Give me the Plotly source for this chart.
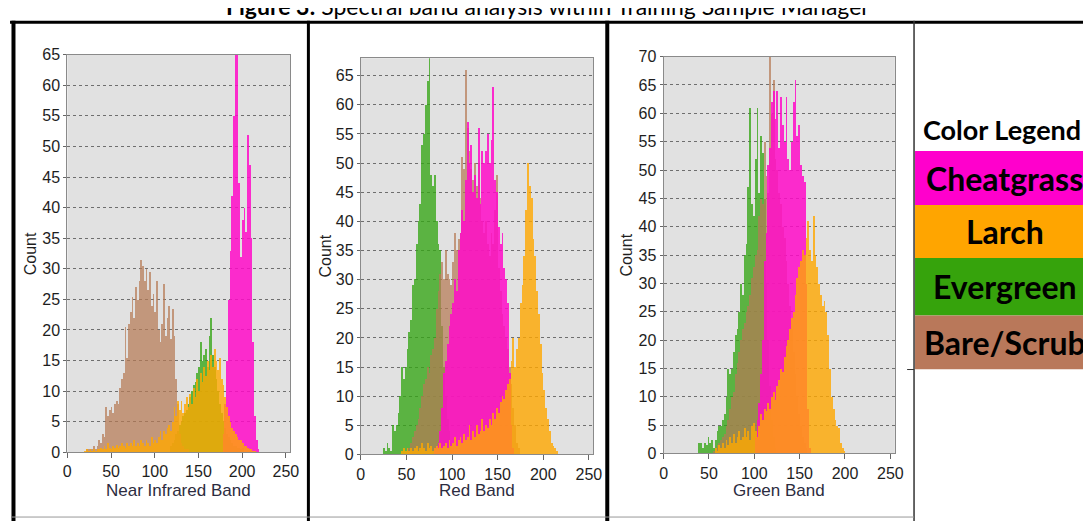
import plotly.graph_objects as go

W, H = 1091, 527          # target picture size
OFF = 8                   # page body margin in front of the figure
FW, FH = W - OFF, H - OFF # figure reaches the right / bottom edge of the window

# ---------------- data (bin width 2, counts per bin) ----------------
bands = ["Near Infrared Band", "Red Band", "Green Band"]
y_max = [65, 68, 70]
x_ticks = [0, 50, 100, 150, 200, 250]

# Near Infrared
nir_bare_start = 22
nir_bare = [0.5, 0.5, 0.5, 0.5, 1, 0.5, 1, 2, 1.5, 3, 2.5, 7.5, 6, 7, 7.5, 6.5, 8, 8.5, 8, 10.5,
            12, 13, 20.5, 15.5, 21, 23, 25.5, 22, 27, 25, 28, 31.5, 30.5, 28, 30, 26.5, 29.5, 24,
            26, 23, 28, 20, 18, 21, 27.5, 19, 22, 24, 18.5, 23.5, 19, 12, 8, 3, 1.5, 1, 0.5, 0.5, 0.5]
nir_ever_start = 118
nir_ever = [1, 1.5, 2, 3, 3.5, 4.5, 5, 6, 6.5, 7, 8, 9, 10, 11, 11.5, 13, 14, 18, 15, 16, 17,
            14, 19, 22, 16, 14, 12, 10, 8, 6.5, 5, 4, 3, 2.5, 2, 1.5, 1, 1, 0.8, 0.8, 0.5, 0.8]
nir_cheat_start = 178
nir_cheat = [3, 8, 15, 25, 33, 42, 55, 66, 65, 44, 32, 38, 40, 36, 52, 47, 35, 18, 6, 2, 0.5]
nir_larch_start = 20
nir_larch = [0.3, 0.5, 0.3, 0.5, 0.3, 0.5, 0.3, 0.5, 0.5, 0.8, 0.5, 1, 0.5, 1.5, 0.8, 0.5, 1, 0.8,
             1.2, 0.8, 1, 1.5, 1, 0.8, 1.5, 1, 1.5, 1, 2, 1, 1.5, 1, 2, 1.5, 1, 2, 1.5, 1, 2.5,
             1.5, 2, 1.5, 2.5, 3.5, 2, 3.5, 3, 4, 4.5, 3.5, 5, 7.5, 6, 8.5, 7, 8.5, 6.5, 8, 9,
             7.5, 9.5, 8, 10.5, 9, 12, 10, 13, 11.5, 14, 12.5, 15, 13.5, 16, 14, 17, 15, 13.5,
             15.5, 12, 11, 9, 7.5, 6, 5, 4, 3.5, 3, 2.5, 2, 2, 1.5, 1, 1, 0.8, 0.5, 0.5, 0.3, 0.3]

# Red
red_ever_start = 24
red_ever = [1, 0.5, 2, 1, 0.5, 5, 4, 5, 7, 10, 15, 13, 15, 18, 21, 23, 29, 30, 36, 40, 43, 53,
            55, 60, 64, 68, 48, 46, 48, 40, 36, 35, 22, 15, 10, 6, 4, 2, 1]
red_bare_start = 50
red_bare = [1, 1, 2, 3, 4, 5, 6, 8, 10, 12, 13, 15, 14, 17, 18, 20, 25, 28, 31, 33, 30, 35, 31,
            30, 29, 33, 38, 35, 37, 38, 51, 49, 66, 56, 52, 49, 47, 50, 46, 50, 44, 40, 38, 40,
            36, 34, 38, 36, 42, 48, 32, 28, 24, 22, 20, 18, 15, 12, 8, 5, 2, 1]
red_cheat_start = 80
red_cheat = [1, 1.5, 2, 4, 8, 14, 16, 19, 22, 24, 26, 30, 28, 35, 38, 42, 40, 47, 57, 50, 53, 45,
             48, 44, 56, 43, 52, 50, 52, 55, 50, 54, 63, 47, 45, 39, 36, 38, 32, 30, 26, 14, 5, 1]
red_larch_start = 44
red_larch = [0.5, 1, 0.5, 1, 0.5, 1, 0.5, 1, 1.5, 0.5, 1, 2, 1, 0.5, 2, 1, 1.5, 0.5, 1, 1.5, 1,
             2, 1, 1.5, 2, 1, 2.5, 1.5, 2, 3, 1.5, 2.5, 3, 2, 3.5, 2.5, 3, 5, 2.5, 4, 3, 5, 3.5,
             4, 6, 4, 5, 4.5, 6, 5, 7, 6, 8, 7, 9, 10, 9.5, 11, 12, 13, 16, 20, 15, 18, 20, 26,
             29, 34, 42, 50, 46, 44, 37, 34, 28, 24, 19, 14, 11, 8, 6, 4, 2, 1.5, 1, 0.5]

# Green
grn_ever_start = 38
grn_ever = [2, 2, 1, 2, 1.5, 3, 2, 2.5, 1, 2.5, 4, 5, 5, 6, 7, 10, 15, 14, 15, 18, 21, 22, 25,
            30, 28, 35, 37, 47, 61, 44, 42, 52, 61, 46, 56, 53, 45, 30, 20, 12, 6, 3, 1]
grn_bare_start = 54
grn_bare = [0.5, 1, 1.5, 2, 2.5, 3, 3.5, 5, 6, 8, 10, 11, 14, 16, 18, 20, 22, 23, 25, 26, 28,
            31, 33, 35, 36, 42, 45, 44, 55, 49, 46, 70, 60, 66, 52, 50, 46, 44, 40, 38, 34, 30,
            26, 22, 18, 14, 10, 7, 5, 3, 2, 1]
grn_cheat_start = 100
grn_cheat = [3, 6, 9, 14, 20, 34, 39, 51, 54, 62, 64, 59, 64, 54, 63, 58, 55, 63, 52, 50, 55,
             62, 66, 56, 58, 51, 49, 48, 30, 8, 1]
grn_larch_start = 56
grn_larch = [1, 0.5, 1.5, 1, 2, 1, 2.5, 1.5, 3, 2, 3.5, 2, 3, 4, 2.5, 3, 4.5, 3, 4, 2.5, 5, 5.5,
             4, 3, 5, 7, 6, 8, 7.5, 9, 8, 10, 11, 9.5, 12, 13, 15, 14.5, 17, 19, 20, 22, 24, 25,
             28, 31, 33, 34, 36, 35, 38, 41, 36, 34, 42, 35, 33, 30, 28, 26, 27, 25, 21, 15, 10,
             8, 6, 5, 4.5, 2, 1, 0.5]

classes = ["Cheatgrass", "Larch", "Evergreen", "Bare/Scrub"]
bar_colors = {
    "Evergreen": "rgba(52,165,20,0.78)",
    "Bare/Scrub": "rgba(182,122,84,0.72)",
    "Cheatgrass": "rgba(255,10,200,0.85)",
    "Larch": "rgba(255,168,0,0.80)",
}
legend_colors = ["#FF00CC", "#FFA500", "#36A30C", "#B9785A"]

series = [
    {"Evergreen": (nir_ever_start, nir_ever), "Bare/Scrub": (nir_bare_start, nir_bare),
     "Cheatgrass": (nir_cheat_start, nir_cheat), "Larch": (nir_larch_start, nir_larch)},
    {"Evergreen": (red_ever_start, red_ever), "Bare/Scrub": (red_bare_start, red_bare),
     "Cheatgrass": (red_cheat_start, red_cheat), "Larch": (red_larch_start, red_larch)},
    {"Evergreen": (grn_ever_start, grn_ever), "Bare/Scrub": (grn_bare_start, grn_bare),
     "Cheatgrass": (grn_cheat_start, grn_cheat), "Larch": (grn_larch_start, grn_larch)},
]
draw_order = ["Evergreen", "Bare/Scrub", "Cheatgrass", "Larch"]
BIN = 2

# ---------------- layout helpers (picture pixel -> paper) ----------------
def px(x):
    return (x - OFF) / FW

def py(y):
    return 1 - (y - OFF) / FH

# plot-area boxes in picture pixels: (left, right, top, bottom)
boxes = [(64, 289.6, 48, 459), (361, 596.5, 51.6, 461.3), (667.5, 901.6, 50, 460.3)]
count_x = [27, 325, 630]

fig = go.Figure()
for i, band in enumerate(bands):
    xa = "x" if i == 0 else f"x{i+1}"
    ya = "y" if i == 0 else f"y{i+1}"
    for cls in draw_order:
        start, counts = series[i][cls]
        xs = [start + BIN * k for k in range(len(counts))]
        fig.add_trace(go.Bar(
            x=xs, y=counts, width=BIN, offset=0,
            marker=dict(color=bar_colors[cls], line=dict(width=0)),
            name=cls, showlegend=False, xaxis=xa, yaxis=ya, hoverinfo="skip",
        ))

tick_font = dict(family="Liberation Sans, Arial, sans-serif", size=16, color="#1e1e1e")
axis_common = dict(showline=True, linecolor="#8a8a8a", linewidth=1, mirror=True,
                   ticks="outside", tickcolor="#666", zeroline=False, tickfont=tick_font,
                   fixedrange=True)

layout = dict(
    width=FW, height=FH, margin=dict(l=0, r=0, t=0, b=0, pad=0),
    paper_bgcolor="white", plot_bgcolor="#E1E1E1",
    barmode="overlay", bargap=0,
    showlegend=False,
)
for i, band in enumerate(bands):
    l, r, t, b = boxes[i]
    sx = "" if i == 0 else str(i + 1)
    layout["xaxis" + sx] = dict(axis_common, domain=[px(l), px(r)], range=[0, 255],
                                tickvals=x_ticks, ticklen=5, showgrid=False,
                                anchor="y" + sx)
    layout["yaxis" + sx] = dict(axis_common, domain=[py(b), py(t)], range=[0, y_max[i]],
                                dtick=5, ticklen=3, showgrid=True, gridcolor="#6e6e6e",
                                griddash="dot", gridwidth=1, anchor="x" + sx)
fig.update_layout(**layout)

ann = []
title_font = dict(family="Liberation Sans, Arial, sans-serif", size=17, color="#2c2c40")
for i, band in enumerate(bands):
    l, r, t, b = boxes[i]
    ann.append(dict(text=band, x=px((l + r) / 2), y=py(499), xref="paper", yref="paper",
                    xanchor="center", yanchor="middle", showarrow=False, font=title_font))
    ann.append(dict(text="Count", x=px(count_x[i]), y=py((t + b) / 2), xref="paper",
                    yref="paper", xanchor="center", yanchor="middle", textangle=-90,
                    showarrow=False,
                    font=dict(family="Liberation Sans, Arial, sans-serif", size=16,
                              color="#1e1e1e")))

# figure caption (cut off at the top in the original)
ann.append(dict(text="<b>Figure 3:</b> Spectral band analysis within Training Sample Manager",
                x=px(551), y=py(14), xref="paper", yref="paper", xanchor="center",
                yanchor="bottom", showarrow=False,
                font=dict(family="Lato, sans-serif", size=23, color="#000")))

# colour legend
ann.append(dict(text="<b>Color Legend</b>", x=px(1010), y=py(125), xref="paper", yref="paper",
                xanchor="center", yanchor="middle", showarrow=False,
                font=dict(family="Lato, sans-serif", size=27, color="#000")))
band_edges = [147.7, 203.3, 258.3, 317.7, 373.3]
shapes = []
for k, cls in enumerate(classes):
    y0, y1 = band_edges[k], band_edges[k + 1]
    shapes.append(dict(type="rect", xref="paper", yref="paper", x0=px(922), x1=1.05,
                       y0=py(y1), y1=py(y0), fillcolor=legend_colors[k], line=dict(width=0),
                       layer="below"))
    ann.append(dict(text=f"<b>{cls}</b>", x=px(1013), y=py((y0 + y1) / 2), xref="paper",
                    yref="paper", xanchor="center", yanchor="middle", showarrow=False,
                    font=dict(family="Lato, sans-serif", size=32, color="#000")))

# panel frame lines
def line(x0, y0, x1, y1, w, c="#000"):
    return dict(type="line", xref="paper", yref="paper", x0=px(x0), y0=py(y0),
                x1=px(x1), y1=py(y1), line=dict(color=c, width=w))

shapes += [
    line(6, 14.5, 1095, 14.5, 3),
    line(9.5, 13, 9.5, 530, 4),
    line(308, 13, 308, 530, 3),
    line(610.5, 13, 610.5, 530, 4),
    line(921, 13, 921, 530, 1.5, "#333"),
    line(8, 526, 921, 526, 1, "#999"),
    line(914, 373.5, 921, 373.5, 1, "#333"),
]
fig.update_layout(annotations=ann, shapes=shapes)

fig.write_html("out.html")
